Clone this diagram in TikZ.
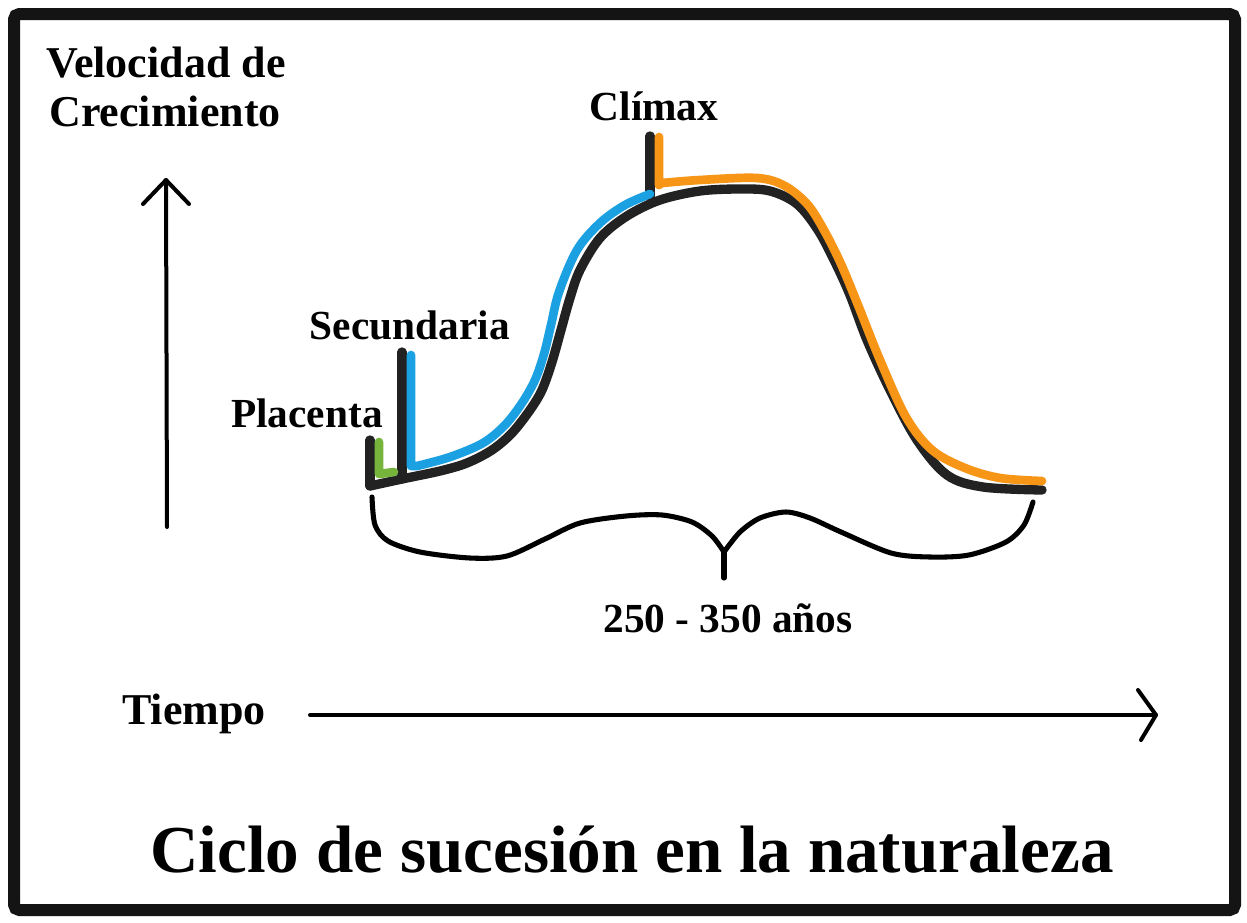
\documentclass[tikz,border=0pt]{standalone}
\usepackage{fontspec}
\setmainfont{Liberation Serif}
\usetikzlibrary{calc}
\definecolor{curvedark}{RGB}{34,34,34}
\definecolor{stageblue}{RGB}{27,161,226}
\definecolor{stageorange}{RGB}{247,150,22}
\definecolor{stagegreen}{RGB}{118,180,60}
\begin{document}
\begin{tikzpicture}[x=0.75pt,y=-0.75pt,
  lbl/.style={inner sep=0pt, font=\bfseries\fontsize{31pt}{36pt}\selectfont},
  axlbl/.style={inner sep=0pt, font=\bfseries\fontsize{33pt}{38pt}\selectfont},
  ttl/.style={inner sep=0pt, font=\bfseries\fontsize{50.3pt}{58pt}\selectfont},
  axisline/.style={line width=3pt, line cap=round, line join=round},
  bcurve/.style={line width=7pt, color=curvedark, line cap=round, line join=round},
  ccurve/.style={line width=6.5pt, line cap=round, line join=round},
  bracestroke/.style={line width=3.8pt, line cap=round, line join=round}]
\useasboundingbox (0,0) rectangle (1247,922);
\fill[white] (0,0) rectangle (1247,922);
\draw[line width=9pt, rounded corners=4pt, color=black!92] (14,14) rectangle (1235,910);

% labels
\node[axlbl, anchor=base] (vel) at (166,77) {Velocidad de};
\node[axlbl, anchor=base] (cre) at (165,126) {Crecimiento};
\node[lbl, anchor=base] (cli) at (654,120) {Clímax};
\node[lbl, anchor=base east] (sec) at (510,339) {Secundaria};
\node[lbl, anchor=base east] (pla) at (383,427) {Placenta};
\node[lbl, anchor=base] (yrs) at (728,632) {250 - 350 años};
\node[axlbl, anchor=base west] (tie) at (122,724) {Tiempo};
\node[ttl, anchor=base] (tit) at (632,872) {Ciclo de sucesión en la naturaleza};

% vertical axis arrow
\coordinate (vbot) at (167,527);
\coordinate (vtop) at (166,180);
\draw[axisline] (vbot) -- (vtop);
\draw[axisline] ($(vtop)+(-23,24)$) -- (vtop) -- ($(vtop)+(23,24)$);

% horizontal axis arrow
\coordinate (hl) at (310,715);
\coordinate (hr) at (1156,715);
\draw[axisline] (hl) -- (hr);
\draw[axisline] ($(hr)+(-18,-25)$) -- (hr) -- ($(hr)+(-15,25)$);

% black curve
\draw[bcurve] plot[smooth, tension=0.55] coordinates {
 (370,486) (402,479) (440,471) (467,463) (492,450) (512,433) (530,410) (542,390)
 (552,362) (561,330) (570,298) (580,270) (600,238) (627,216) (660,200) (700,191)
 (740,189) (770,191) (797,204) (818,230) (835,262) (850,295) (867,340) (890,390)
 (917,440) (947,475) (983,487) (1042,490)};
% stage markers (black)
\draw[bcurve] (370,440) -- (370,486);
\draw[bcurve] (402,352) -- (402,479);
\draw[bcurve] (650,136) -- (650,196);

% green (placenta)
\draw[ccurve, stagegreen] (379,442) -- (379,474) -- (394,472);
% blue (secundaria)
\draw[ccurve, stageblue] (411,355) -- (411,466) -- plot[smooth, tension=0.55] coordinates {
 (417,466) (450,457) (483,443) (505,425) (522,403) (535,380) (544,354) (551,325)
 (559,292) (577,250) (600,223) (625,205) (650,194)};
% orange (climax)
\draw[ccurve, stageorange] (659,137) -- (659,185) -- plot[smooth, tension=0.55] coordinates {
 (662,183) (700,180) (757,178) (785,186) (808,205) (825,232) (841,264) (858,305)
 (880,360) (906,417) (932,450) (965,468) (1000,478) (1042,481)};

% brace
\draw[bracestroke] plot[smooth, tension=0.5] coordinates {
 (372,497) (375,525) (388,541) (420,552) (470,558) (507,556) (545,539) (580,523)
 (626,516) (662,515) (692,522) (712,536) (724,552)};
\draw[bracestroke] plot[smooth, tension=0.5] coordinates {
 (724,552) (740,532) (760,518) (786,512) (810,518) (841,532) (891,553) (930,557)
 (969,555) (1006,542) (1024,525) (1033,502)};
\coordinate (bcusp) at (724,550);
\coordinate (bstem) at (724,578);
\draw[bracestroke] (bcusp) -- (bstem);
\end{tikzpicture}
\end{document}
